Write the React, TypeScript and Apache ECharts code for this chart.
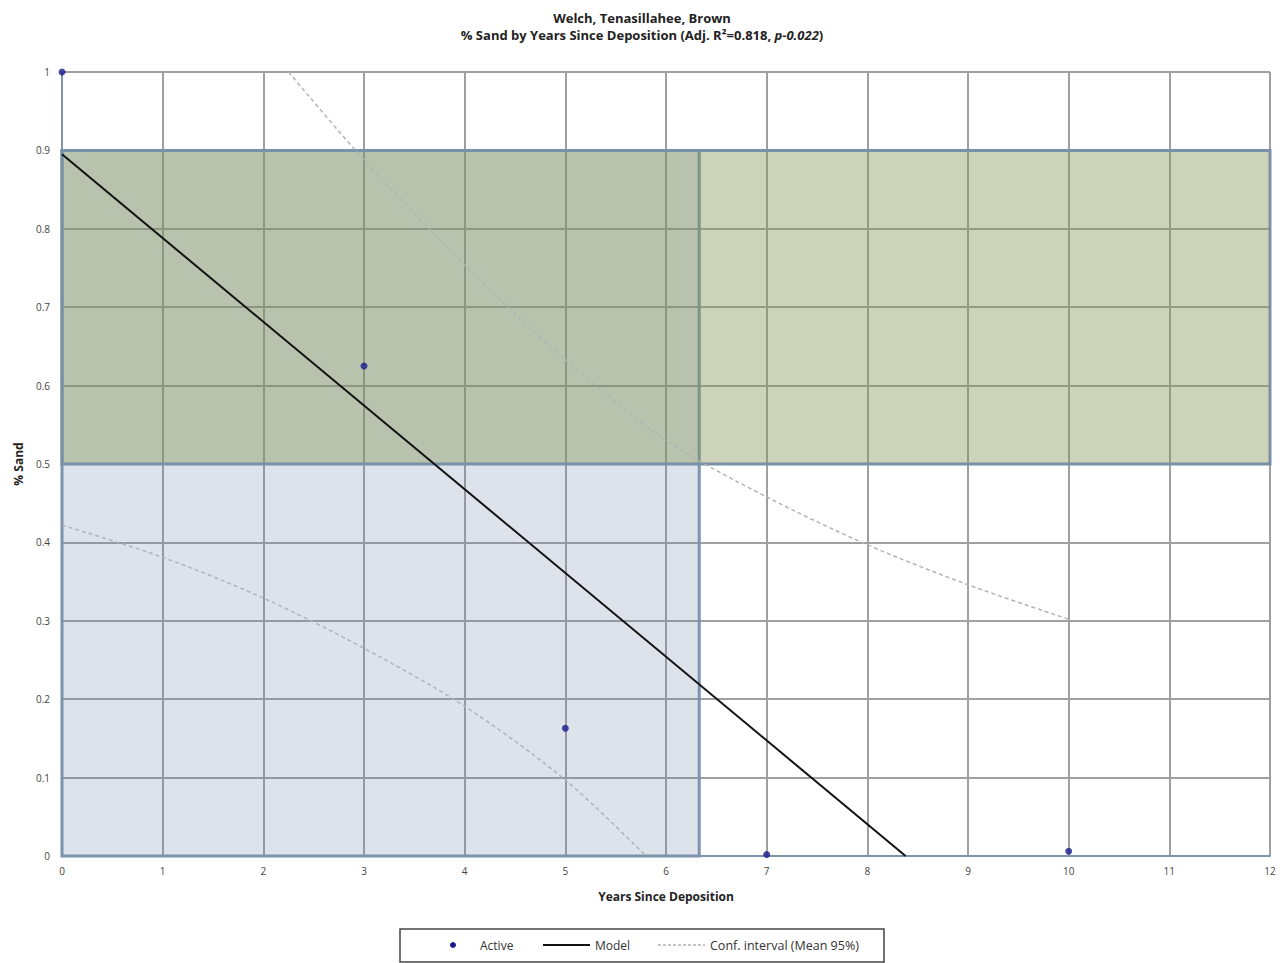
import React, { useEffect, useRef } from "react";
import * as echarts from "echarts";

const titleLine1 = "Welch, Tenasillahee, Brown";
const xName = "Years Since Deposition";
const yName = "% Sand";

const activePoints: [number, number][] = [
  [0, 1.0],
  [3, 0.625],
  [5, 0.163],
  [7, 0.002],
  [10, 0.006],
];
const modelLine: [number, number][] = [
  [0, 0.895],
  [8.38, 0],
];
const confUpper: [number, number][] = [
  [2.25, 1.0],
  [3, 0.888],
  [4, 0.754],
  [5, 0.633],
  [6, 0.53],
  [7, 0.458],
  [8, 0.397],
  [9, 0.346],
  [10, 0.302],
];
const confLower: [number, number][] = [
  [0, 0.422],
  [1, 0.381],
  [2, 0.329],
  [3, 0.265],
  [4, 0.191],
  [5, 0.097],
  [5.8, 0],
];
// rectangles: [x0, y0, x1, y1]
const blueRect = [0, 0, 6.33, 0.9];
const oliveRect = [0, 0.5, 12, 0.9];

const FONT = "'Open Sans', 'Liberation Sans', sans-serif";

export default function App() {
  const ref = useRef<HTMLDivElement>(null);
  useEffect(() => {
    if (!ref.current) return;
    const chart = echarts.init(ref.current, null, { renderer: "svg" });
    const legendY = 945;
    chart.setOption({
      animation: false,
      backgroundColor: "#ffffff",
      textStyle: { fontFamily: FONT },
      title: {
        text: titleLine1 + "\n{n|% Sand by Years Since Deposition (Adj. R²=0.818, }{i|p-0.022}{n|)}",
        left: "center",
        top: 4,
        textStyle: {
          fontSize: 13,
          fontWeight: "bold",
          color: "#222",
          fontFamily: FONT,
          lineHeight: 17,
          rich: {
            n: { fontSize: 13, fontWeight: "bold", color: "#222", fontFamily: FONT, lineHeight: 17 },
            i: { fontSize: 13, fontWeight: "bold", fontStyle: "italic", color: "#222", fontFamily: FONT, lineHeight: 17 },
          },
        },
      },
      grid: { left: 62, right: 14, top: 72, bottom: 107, containLabel: false },
      xAxis: {
        type: "value",
        min: 0,
        max: 12,
        interval: 1,
        name: xName,
        nameLocation: "middle",
        nameGap: 34,
        nameTextStyle: { fontSize: 12, fontWeight: "bold", color: "#222", fontFamily: FONT },
        axisLine: { show: true, lineStyle: { color: "#7f93ad", width: 2 } },
        axisTick: { show: false },
        axisLabel: { fontSize: 10, color: "#444", margin: 10 },
        splitLine: { show: true, lineStyle: { color: "#a0a0a0", width: 2 } },
      },
      yAxis: {
        type: "value",
        min: 0,
        max: 1,
        interval: 0.1,
        name: yName,
        nameLocation: "middle",
        nameGap: 38,
        nameRotate: 90,
        nameTextStyle: { fontSize: 12, fontWeight: "bold", color: "#222", fontFamily: FONT },
        axisLine: { show: true, lineStyle: { color: "#7f93ad", width: 2 } },
        axisTick: { show: false },
        axisLabel: {
          fontSize: 10,
          color: "#444",
          margin: 12,
          formatter: (v: number) => String(Math.round(v * 10) / 10),
        },
        splitLine: { show: true, lineStyle: { color: "#a0a0a0", width: 2 } },
      },
      series: [
        {
          type: "scatter",
          name: "blueRect",
          data: [],
          z: 1,
          markArea: {
            silent: true,
            itemStyle: {
              color: "rgba(100,125,165,0.22)",
              borderColor: "#7b93ad",
              borderWidth: 3,
            },
            data: [[{ coord: [blueRect[0], blueRect[1]] }, { coord: [blueRect[2], blueRect[3]] }]],
          },
        },
        {
          type: "scatter",
          name: "oliveRect",
          data: [],
          z: 1,
          markArea: {
            silent: true,
            itemStyle: {
              color: "rgba(134,149,85,0.41)",
              borderColor: "#7890a8",
              borderWidth: 3,
            },
            data: [[{ coord: [oliveRect[0], oliveRect[1]] }, { coord: [oliveRect[2], oliveRect[3]] }]],
          },
        },
        {
          type: "line",
          name: "Conf. interval (Mean 95%)",
          data: confUpper,
          smooth: 0.3,
          showSymbol: false,
          lineStyle: { color: "#b4b4b4", width: 1.5, type: [4, 3] },
          z: 3,
        },
        {
          type: "line",
          name: "Conf. interval (Mean 95%) lower",
          data: confLower,
          smooth: 0.3,
          showSymbol: false,
          lineStyle: { color: "#b4b4b4", width: 1.5, type: [4, 3] },
          z: 3,
        },
        {
          type: "line",
          name: "Model",
          data: modelLine,
          showSymbol: false,
          lineStyle: { color: "#111111", width: 2 },
          z: 4,
        },
        {
          type: "scatter",
          name: "Active",
          data: activePoints,
          symbol: "circle",
          symbolSize: 7,
          itemStyle: { color: "#1c1c8e" },
          z: 5,
        },
      ],
      graphic: [
        {
          type: "rect",
          shape: { x: 400, y: 929, width: 484, height: 33 },
          style: { fill: "#fff", stroke: "#444", lineWidth: 1.5 },
        },
        { type: "circle", shape: { cx: 453, cy: legendY, r: 3 }, style: { fill: "#1c1c8e" } },
        {
          type: "text",
          x: 480,
          y: legendY,
          style: { text: "Active", fontSize: 12, fill: "#333", fontFamily: FONT, verticalAlign: "middle" },
        },
        {
          type: "line",
          shape: { x1: 543, y1: legendY, x2: 590, y2: legendY },
          style: { stroke: "#111", lineWidth: 2 },
        },
        {
          type: "text",
          x: 595,
          y: legendY,
          style: { text: "Model", fontSize: 12, fill: "#333", fontFamily: FONT, verticalAlign: "middle" },
        },
        {
          type: "line",
          shape: { x1: 658, y1: legendY, x2: 705, y2: legendY },
          style: { stroke: "#b4b4b4", lineWidth: 1.5, lineDash: [3, 2] },
        },
        {
          type: "text",
          x: 710,
          y: legendY,
          style: {
            text: "Conf. interval (Mean 95%)",
            fontSize: 12.5,
            fill: "#333",
            fontFamily: FONT,
            verticalAlign: "middle",
          },
        },
      ],
    });
    return () => chart.dispose();
  }, []);
  return <div ref={ref} style={{ width: 1284, height: 963, position: "absolute", left: 0, top: 0 }} />;
}
